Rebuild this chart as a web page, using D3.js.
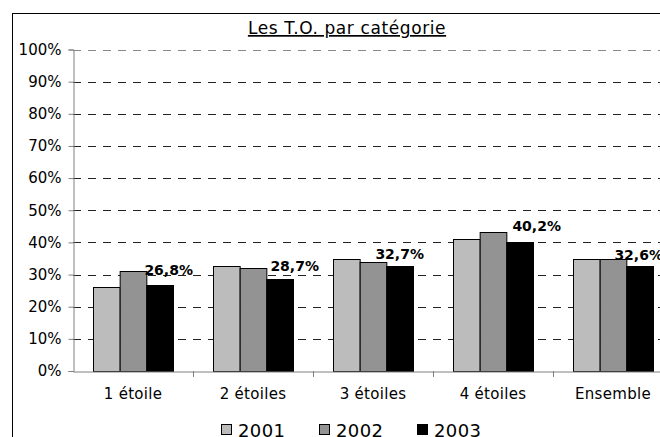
<!DOCTYPE html>
<html>
<head>
<meta charset="utf-8">
<script src="https://cdn.jsdelivr.net/npm/d3@7"></script>
<style>
  body { margin: 0; background: #fff; }
  svg { display: block; font-family: "DejaVu Sans", Verdana, sans-serif; }
</style>
</head>
<body>
<svg id="chart" width="660" height="437"></svg>
<script>
const categories = ['1 étoile', '2 étoiles', '3 étoiles', '4 étoiles', 'Ensemble']
const years = ['2001', '2002', '2003']
const values2001 = [26.0, 32.6, 34.8, 41.0, 34.8]
const values2002 = [31.1, 31.9, 33.8, 43.1, 34.8]
const values2003 = [26.8, 28.7, 32.7, 40.2, 32.6]
const yTicks = [0, 10, 20, 30, 40, 50, 60, 70, 80, 90, 100]
const colors = ['#bcbcbc', '#939393', '#000000']

// labels were dragged by hand in the original, small shifts
const labelShiftX = [9, 15, 0, 17, -1]
const labelShiftY = [-3.5, -1.5, 0, -4, 0]

const series = [values2001, values2002, values2003]

const svg = d3.select('#chart')
const W = 660, H = 437

// frame of the chart area (runs past the picture on right and bottom)
svg.append('rect')
    .attr('x', 12.5).attr('y', 13.5)
    .attr('width', 700).attr('height', 500)
    .attr('fill', 'none').attr('stroke', '#000')

const x = d3.scaleBand().domain(categories).range([73, 673])
const x1 = d3.scaleBand().domain(years).range([0, x.bandwidth()]).paddingOuter(0.75).paddingInner(0)
const y = d3.scaleLinear().domain([0, 100]).range([371, 49.5])

// title
svg.append('text')
    .attr('x', 347).attr('y', 34)
    .attr('text-anchor', 'middle')
    .attr('font-size', 17)
    .attr('letter-spacing', 0.6)
    .attr('text-decoration', 'underline')
    .attr('fill', '#000')
    .text('Les T.O. par catégorie')

// gridlines
svg.append('g').selectAll('line').data(yTicks.filter(d => d > 0))
    .enter().append('line')
    .attr('x1', 73).attr('x2', 673)
    .attr('y1', d => Math.round(y(d)) + 0.5)
    .attr('y2', d => Math.round(y(d)) + 0.5)
    .attr('stroke', d => d === 100 ? '#888' : '#222')
    .attr('stroke-dasharray', '8,7')

// y axis
const yAxis = svg.append('g')
    .attr('transform', 'translate(73.5,0)')
    .call(d3.axisLeft(y).tickValues(yTicks).tickSize(5).tickPadding(7).tickFormat(d => d + '%'))
yAxis.select('.domain').attr('stroke', '#808080')
yAxis.selectAll('.tick line').attr('stroke', '#808080')
yAxis.selectAll('text').attr('font-size', 15).attr('font-family', 'DejaVu Sans').attr('fill', '#000')

// bars
const groups = svg.append('g').selectAll('g').data(categories)
    .enter().append('g')
    .attr('transform', d => `translate(${x(d)},0)`)

groups.selectAll('rect').data((d, i) => series.map((s, k) => ({ year: years[k], v: s[i], k })))
    .enter().append('rect')
    .attr('x', d => x1(d.year) + 0.5)
    .attr('y', d => Math.round(y(d.v)) + 0.5)
    .attr('width', x1.bandwidth())
    .attr('height', d => 371 - Math.round(y(d.v)))
    .attr('fill', d => colors[d.k])
    .attr('stroke', '#000')
    .attr('stroke-width', 1)

// x axis
const xAxis = svg.append('g')
    .attr('transform', 'translate(0,371.5)')
    .call(d3.axisBottom(x).tickSize(0).tickPadding(17))
xAxis.select('.domain').attr('stroke', '#808080')
xAxis.selectAll('text').attr('font-size', 15).attr('font-family', 'DejaVu Sans').attr('fill', '#000')
    .attr('letter-spacing', 0.3)
svg.append('g').selectAll('line').data(categories.slice(1))
    .enter().append('line')
    .attr('x1', d => Math.round(x(d)) + 0.5).attr('x2', d => Math.round(x(d)) + 0.5)
    .attr('y1', 371).attr('y2', 377)
    .attr('stroke', '#808080')

// value labels for 2003
svg.append('g').selectAll('text').data(categories)
    .enter().append('text')
    .attr('x', (d, i) => x(d) + x1('2003') + x1.bandwidth() / 2 + labelShiftX[i])
    .attr('y', (d, i) => y(values2003[i]) - 6.5 + labelShiftY[i])
    .attr('text-anchor', 'middle')
    .attr('font-size', 14)
    .attr('font-weight', 'bold')
    .text((d, i) => values2003[i].toFixed(1).replace('.', ',') + '%')

// legend
const leg = svg.append('g').selectAll('g').data(years)
    .enter().append('g')
    .attr('transform', (d, i) => `translate(${221 + i * 98},424)`)
leg.append('rect')
    .attr('x', 0.5).attr('y', 0.5).attr('width', 10).attr('height', 10)
    .attr('fill', (d, i) => colors[i]).attr('stroke', '#000')
leg.append('text')
    .attr('x', 17).attr('y', 12.5)
    .attr('font-size', 18)
    .attr('letter-spacing', 0.4)
    .text(d => d)
</script>
</body>
</html>
